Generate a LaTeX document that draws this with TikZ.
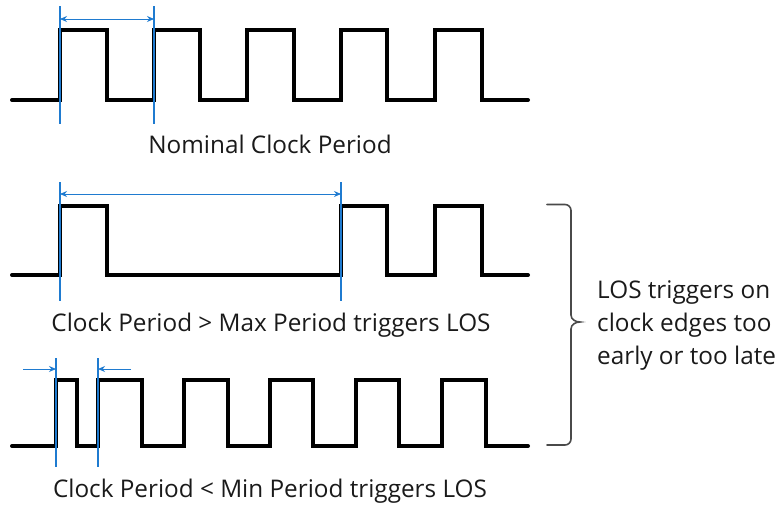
\documentclass[tikz,border=0pt]{standalone}
\usepackage{fontspec}
\setmainfont{Open Sans}
\usetikzlibrary{arrows.meta}
\definecolor{clkblue}{HTML}{1F7BD0}
\definecolor{txt}{HTML}{1A1A1A}
\definecolor{bracegray}{HTML}{4A4A4A}
\begin{document}
\begin{tikzpicture}[x=1pt,y=-1pt,
  wave/.style={line width=4pt, line cap=round, line join=miter, black},
  marker/.style={clkblue, line width=1.4pt},
  dimone/.style={clkblue, line width=0.9pt, -{Stealth[length=7pt,width=6pt]}},
  dimboth/.style={clkblue, line width=0.9pt, {Stealth[length=7pt,width=6pt]}-{Stealth[length=7pt,width=6pt]}},
  lbl/.style={text=txt, font=\fontsize{24.3}{28}\selectfont, anchor=base, inner sep=0pt},
  bracestyle/.style={bracegray, line width=1.6pt, line cap=round},
]
\useasboundingbox (0,0) rectangle (779,506);

% ---------- waveform 1: nominal ----------
\draw[wave] (12,100) -| (60,30) -| (107,100) -| (154,30) -| (200,100) -| (247,30)
  -| (294,100) -| (341,30) -| (387,100) -| (435,30) -| (482,100) -- (528,100);
\coordinate (m1at) at (60,6);   \coordinate (m1ab) at (60,124);
\coordinate (m1bt) at (154,6);  \coordinate (m1bb) at (154,124);
\coordinate (d1l) at (60,19);   \coordinate (d1r) at (154,19);
\draw[marker] (m1at) -- (m1ab);
\draw[marker] (m1bt) -- (m1bb);
\draw[dimboth] (d1l) -- (d1r);
\node[lbl] (t1) at (270,153) {Nominal Clock Period};

% ---------- waveform 2: period too long ----------
\draw[wave] (12,275) -| (60,206) -| (107,275) -| (341,206) -| (387,275) -| (435,206)
  -| (482,275) -- (528,275);
\coordinate (m2at) at (60,182);   \coordinate (m2ab) at (60,301);
\coordinate (m2bt) at (341,182);  \coordinate (m2bb) at (341,301);
\coordinate (d2l) at (60,194);    \coordinate (d2r) at (341,194);
\draw[marker] (m2at) -- (m2ab);
\draw[marker] (m2bt) -- (m2bb);
\draw[dimboth] (d2l) -- (d2r);
\node[lbl] (t2) at (271,331) {Clock Period > Max Period triggers LOS};

% ---------- waveform 3: period too short ----------
\draw[wave] (12,446) -| (55.5,380) -| (77,446) -| (98,380) -| (142,446) -| (184,380)
  -| (228,446) -| (270,380) -| (313,446) -| (356,380) -| (399,446) -| (442,380)
  -| (485.5,446) -- (528,446);
\coordinate (m3at) at (56,358);   \coordinate (m3ab) at (56,467);
\coordinate (m3bt) at (98,358);   \coordinate (m3bb) at (98,467);
\coordinate (d3ls) at (23,369);   \coordinate (d3le) at (56,369);
\coordinate (d3rs) at (131,369);  \coordinate (d3re) at (98,369);
\draw[marker] (m3at) -- (m3ab);
\draw[marker] (m3bt) -- (m3bb);
\draw[dimone] (d3ls) -- (d3le);
\draw[dimone] (d3rs) -- (d3re);
\node[lbl] (t3) at (270,497) {Clock Period < Min Period triggers LOS};

% ---------- brace and note ----------
\coordinate (btop) at (547,204.5);
\coordinate (btip) at (580,322);
\coordinate (bbot) at (547,445);
\draw[bracestyle] (btop) -- (565,204.5) to[out=0,in=90] (571,210.5) -- (571,315)
  to[out=270,in=180] (btip) to[out=180,in=90] (571,329) -- (571,439)
  to[out=270,in=0] (565,445) -- (bbot);
\node[lbl, anchor=base west] (n1) at (597,298) {LOS triggers on};
\node[lbl, anchor=base west] (n2) at (597,331) {clock edges too};
\node[lbl, anchor=base west] (n3) at (597,364) {early or too late};
\end{tikzpicture}
\end{document}
